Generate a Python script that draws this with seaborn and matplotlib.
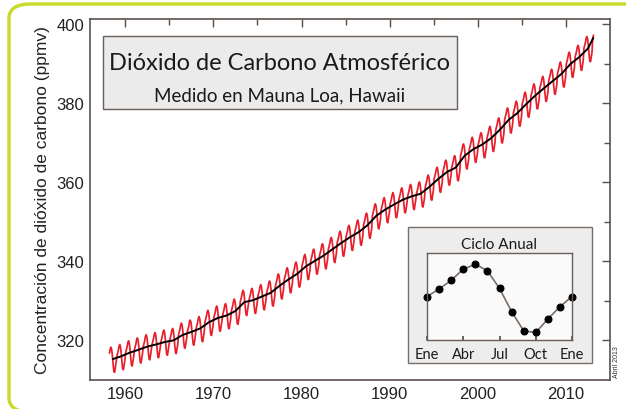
import numpy as np
import pandas as pd
import matplotlib
matplotlib.use("Agg")
import matplotlib.pyplot as plt
import seaborn as sns
from matplotlib.patches import Rectangle, FancyBboxPatch

# annual means at Mauna Loa (ppmv), 1958 and 2013 are partial years
years = list(range(1958, 2014))
annual_co2 = [315.3, 315.97, 316.91, 317.64, 318.45, 318.99, 319.62, 320.04, 321.38, 322.16,
              323.04, 324.62, 325.68, 326.32, 327.45, 329.68, 330.18, 331.11, 332.04, 333.83,
              335.40, 336.84, 338.75, 340.11, 341.45, 343.05, 344.65, 346.12, 347.42, 349.19,
              351.57, 353.12, 354.39, 355.61, 356.45, 357.10, 358.83, 360.82, 362.61, 363.73,
              366.70, 368.38, 369.55, 371.14, 373.28, 375.80, 377.52, 379.80, 381.90, 383.79,
              385.60, 387.43, 389.90, 391.65, 393.85, 396.50]
first_month = 3   # March 1958
last_month = 2    # February 2013

# seasonal cycle (ppmv relative to January)
cycle_months = list(range(1, 14))
cycle_anom = [0.0, 0.7, 1.5, 2.55, 3.0, 2.4, 0.75, -1.4, -3.2, -3.35, -2.1, -0.95, 0.0]
cycle_ticks = [1, 4, 7, 10, 13]
cycle_labels = ["Ene", "Abr", "Jul", "Oct", "Ene"]

rows = []
for y, c in zip(years, annual_co2):
    for m in range(1, 13):
        if y == years[0] and m < first_month:
            continue
        if y == years[-1] and m > last_month:
            continue
        rows.append({"t": y + (m - 0.5) / 12, "co2": c + cycle_anom[m - 1]})
monthly = pd.DataFrame(rows)
trend = pd.DataFrame({"t": [y + 0.5 for y in years], "co2": annual_co2})
trend.loc[0, "t"] = 1958.6
trend.loc[len(trend) - 1, "t"] = 2013.1
cycle = pd.DataFrame({"m": cycle_months, "anom": cycle_anom})

sns.set_theme(style="white")
plt.rcParams["font.family"] = ["Liberation Sans", "DejaVu Sans"]
spine_c = "#5a504b"
myriad = ["Lato", "DejaVu Sans"]

fig = plt.figure(figsize=(6.26, 4.10), dpi=100)
fig.patch.set_facecolor("white")
# rounded green frame, right and bottom edges run off the picture
fig.patches.append(FancyBboxPatch((9 / 626, -3 / 410), 640 / 626, 408 / 410,
                                  boxstyle="round,pad=0,rounding_size=0.035",
                                  transform=fig.transFigure, fill=False,
                                  edgecolor="#c9db2e", linewidth=2.5, zorder=0))

ax = fig.add_axes([90 / 626, (410 - 381) / 410, 520 / 626, 361 / 410])
sns.lineplot(data=monthly, x="t", y="co2", ax=ax, color="#e8202c", linewidth=1.25)
sns.lineplot(data=trend, x="t", y="co2", ax=ax, color="black", linewidth=1.4)
ax.set_xlim(1956, 2015)
ax.set_ylim(310, 401.3)
ax.set_xticks([1960, 1970, 1980, 1990, 2000, 2010])
ax.set_xticks([1965, 1975, 1985, 1995, 2005], minor=True)
ax.set_yticks([320, 340, 360, 380, 400])
ax.set_yticks([330, 350, 370, 390], minor=True)
ax.tick_params(which="both", direction="in", top=True, right=True, color=spine_c,
               labelsize=12, labelcolor="#222222", pad=4)
ax.tick_params(which="major", length=6, width=1)
ax.tick_params(which="minor", length=4, width=1)
for s in ax.spines.values():
    s.set_color(spine_c)
    s.set_linewidth(1.2)
ax.set_xlabel("")
ax.set_ylabel("Concentración de dióxido de carbono (ppmv)", fontsize=12.5, color="#222222",
              labelpad=5)

# title box
ax.add_patch(Rectangle((0.025, 0.751), 0.681, 0.202, transform=ax.transAxes,
                       facecolor="#ebebeb", edgecolor="#6a5e58", linewidth=1, zorder=3))
ax.text(0.365, 0.88, "Dióxido de Carbono Atmosférico", transform=ax.transAxes,
        ha="center", va="center", fontsize=17, family=myriad, color="#1a1a1a", zorder=4)
ax.text(0.365, 0.79, "Medido en Mauna Loa, Hawaii", transform=ax.transAxes,
        ha="center", va="center", fontsize=13.5, family=myriad, color="#1a1a1a", zorder=4)

# inset frame
ax.add_patch(Rectangle((0.612, 0.047), 0.353, 0.376, transform=ax.transAxes,
                       facecolor="#ededed", edgecolor="#7a6e68", linewidth=1, zorder=3))
ax.text(0.787, 0.378, "Ciclo Anual", transform=ax.transAxes, ha="center", va="center",
        fontsize=11, family=myriad, color="#1a1a1a", zorder=4)

ins = fig.add_axes([427 / 626, (410 - 341) / 410, 145 / 626, 87 / 410])
ins.set_facecolor("#fafafa")
sns.lineplot(data=cycle, x="m", y="anom", ax=ins, color="#7d6d64", linewidth=1.2,
             marker="o", markersize=5, markerfacecolor="black", markeredgecolor="black",
             clip_on=False)
ins.set_xlim(1, 13)
ins.set_ylim(-4.05, 4.05)
ins.set_xticks(cycle_ticks)
ins.set_xticklabels(cycle_labels, family=myriad)
ins.set_yticks([])
ins.tick_params(axis="x", direction="in", length=3, color=spine_c, labelsize=10.5,
                labelcolor="#1a1a1a", pad=5, bottom=True)
ins.set_xlabel("")
ins.set_ylabel("")
for s in ins.spines.values():
    s.set_color("#6a5e58")
    s.set_linewidth(1)

fig.text(617 / 626, (410 - 362) / 410, "Abril 2013", rotation=90, ha="center", va="center",
         fontsize=5, color="#333333")

fig.savefig("out.png", dpi=100)
